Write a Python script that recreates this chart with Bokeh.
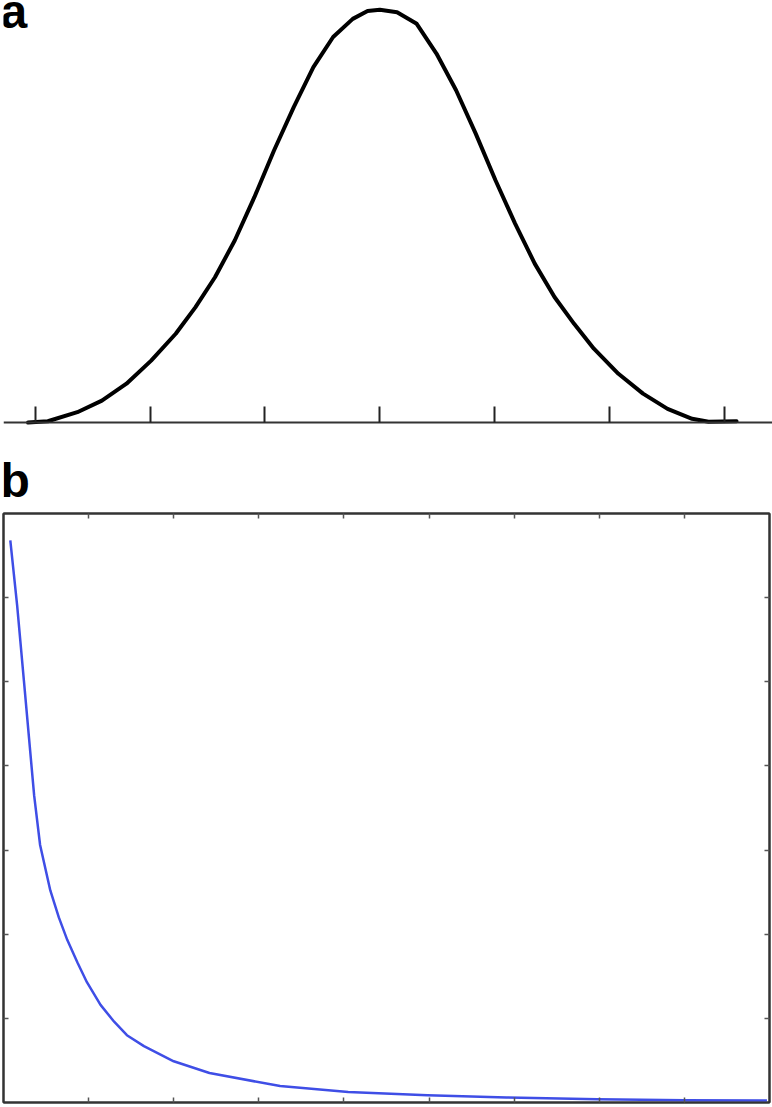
from bokeh.plotting import figure
from bokeh.models import FixedTicker, LinearAxis, Label, Range1d
from bokeh.layouts import column
from bokeh.embed import file_html
from bokeh.resources import INLINE

# ---------------- data: panel a (bell-shaped curve) ----------------
a_x = [-0.062, 0.110, 0.367, 0.581, 0.795, 1.010, 1.224, 1.395, 1.566, 1.738, 1.909,
       2.080, 2.252, 2.423, 2.595, 2.766, 2.895, 3.002, 3.152, 3.323, 3.495, 3.666,
       3.837, 4.009, 4.180, 4.351, 4.523, 4.694, 4.866, 5.080, 5.294, 5.508, 5.722,
       5.865, 6.109]
a_y = [0.0, 0.003, 0.025, 0.053, 0.094, 0.150, 0.215, 0.279, 0.352, 0.441, 0.546,
       0.659, 0.764, 0.861, 0.934, 0.978, 0.997, 1.0, 0.994, 0.966, 0.894, 0.805,
       0.700, 0.587, 0.482, 0.385, 0.304, 0.239, 0.179, 0.118, 0.070, 0.033, 0.009,
       0.002, 0.003]
a_ticks = [0, 1, 2, 3, 4, 5, 6]

# ---------------- data: panel b (decaying curve) ----------------
b_x = [0.08, 0.16, 0.24, 0.30, 0.36, 0.43, 0.55, 0.65, 0.75, 0.87, 0.98, 1.14,
       1.30, 1.45, 1.65, 2.00, 2.42, 3.25, 4.05, 4.98, 5.91, 6.98, 8.00, 8.97]
b_y = [6.68, 5.91, 5.01, 4.33, 3.65, 3.06, 2.52, 2.20, 1.93, 1.66, 1.43, 1.16,
       0.96, 0.80, 0.67, 0.49, 0.35, 0.195, 0.125, 0.086, 0.06, 0.04, 0.027, 0.024]
b_xticks = [1, 2, 3, 4, 5, 6, 7, 8]
b_yticks = [1, 2, 3, 4, 5, 6]

FONT = "Liberation Sans"

# ---------------- panel a (its frame also holds the "b" tag area) ----------------
pa = figure(frame_width=772, frame_height=510, output_backend="svg", toolbar_location=None,
            x_range=Range1d(-0.276, 6.448), y_range=Range1d(-0.2132, 1.0225),
            x_axis_location=None, y_axis_location=None)
pa.min_border_left = 0
pa.min_border_right = 0
pa.min_border_top = 0
pa.min_border_bottom = 0
pa.outline_line_color = None
pa.grid.visible = False
pa.background_fill_color = "white"
pa.border_fill_color = "white"

ax = LinearAxis(ticker=FixedTicker(ticks=[], minor_ticks=a_ticks), fixed_location=0)
ax.major_tick_line_color = None
ax.minor_tick_out = 0
ax.minor_tick_in = 16
ax.minor_tick_line_width = 2
ax.minor_tick_line_color = "#222222"
ax.axis_line_color = "#333333"
ax.axis_line_width = 2
pa.add_layout(ax, "below")

pa.line(a_x, a_y, line_color="black", line_width=4, line_join="round", line_cap="round")

pa.add_layout(Label(x=-3, y=499, x_units="screen", y_units="screen", text="a",
                    text_font=FONT, text_font_style="bold", text_font_size="48px",
                    text_color="black", text_baseline="alphabetic", text_align="left"))
pa.add_layout(Label(x=-3, y=30, x_units="screen", y_units="screen", text="b",
                    text_font=FONT, text_font_style="bold", text_font_size="48px",
                    text_color="black", text_baseline="alphabetic", text_align="left"))

# ---------------- panel b ----------------
pb = figure(frame_width=766, frame_height=589, output_backend="svg", toolbar_location=None,
            x_range=Range1d(0, 9), y_range=Range1d(0, 7),
            x_axis_location=None, y_axis_location=None)
pb.min_border_left = 3
pb.min_border_right = 3
pb.min_border_top = 3
pb.min_border_bottom = 4
pb.outline_line_color = "#333333"
pb.outline_line_width = 2
pb.grid.visible = False
pb.background_fill_color = "white"
pb.border_fill_color = "white"

for loc, ticks in (("below", b_xticks), ("above", b_xticks), ("left", b_yticks), ("right", b_yticks)):
    axb = LinearAxis(ticker=FixedTicker(ticks=[], minor_ticks=ticks))
    axb.major_tick_line_color = None
    axb.minor_tick_out = 0
    axb.minor_tick_in = 5
    axb.minor_tick_line_width = 1.5
    axb.minor_tick_line_color = "#555555"
    axb.axis_line_color = "#333333"
    axb.axis_line_width = 2
    pb.add_layout(axb, loc)

pb.line(b_x, b_y, line_color="#3f4ee6", line_width=2.5, line_join="round")

layout = column(pa, pb, spacing=0)
open("out.html", "w").write(file_html(layout, INLINE))
